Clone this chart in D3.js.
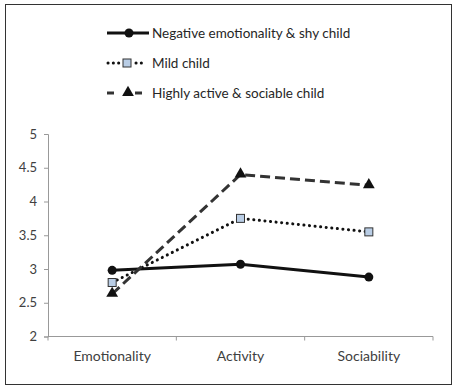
<!DOCTYPE html>
<html><head><meta charset="utf-8">
<script src="https://cdn.jsdelivr.net/npm/d3@7"></script>
<style>body{margin:0;background:#fff}svg{display:block}</style>
</head><body>
<script>
const categories = ["Emotionality", "Activity", "Sociability"];
const seriesNames = ["Negative emotionality & shy child", "Mild child", "Highly active & sociable child"];
const negativeShy = [2.98, 3.07, 2.88];
const mild = [2.80, 3.75, 3.55];
const highlyActive = [2.63, 4.40, 4.24];
const yTicks = [2, 2.5, 3, 3.5, 4, 4.5, 5];

const W = 455, H = 390;
const svg = d3.select("body").append("svg").attr("width", W).attr("height", H);
svg.append("rect").attr("x", 5.5).attr("y", 4.5).attr("width", 446).attr("height", 380)
  .attr("fill", "#fff").attr("stroke", "#333").attr("stroke-width", 1);

const font = "Lato, 'Open Sans', sans-serif";
const x = d3.scaleBand().domain(categories).range([48, 433]);
const y = d3.scaleLinear().domain([2, 5]).range([336.5, 134]);

// Y axis
const yAxis = svg.append("g").attr("transform", "translate(48,0)")
  .call(d3.axisLeft(y).tickValues(yTicks).tickSize(4).tickPadding(7).tickFormat(d3.format("~g")));
yAxis.select(".domain").attr("stroke", "#999");
yAxis.selectAll(".tick line").attr("stroke", "#999");
yAxis.selectAll("text").attr("fill", "#404040").style("font-family", font).style("font-size", "13px");

// X axis
const xAxis = svg.append("g").attr("transform", `translate(0,${y(2)})`);
xAxis.append("line").attr("x1", 48).attr("x2", 433).attr("stroke", "#999");
const bounds = [0, 1, 2, 3].map(i => 48 + i * x.step());
xAxis.selectAll(".bt").data(bounds).enter().append("line")
  .attr("x1", d => d).attr("x2", d => d).attr("y1", 0).attr("y2", 4).attr("stroke", "#999");
xAxis.selectAll(".lab").data(categories).enter().append("text")
  .attr("x", d => x(d) + x.bandwidth() / 2).attr("y", 24)
  .attr("text-anchor", "middle").attr("fill", "#404040")
  .style("font-family", font).style("font-size", "14px").text(d => d);

const series = [
  {name: seriesNames[0], values: negativeShy, dash: null, cap: "butt", marker: "circle"},
  {name: seriesNames[1], values: mild, dash: "0.1,5.5", cap: "round", marker: "square"},
  {name: seriesNames[2], values: highlyActive, dash: "10,5", cap: "butt", marker: "triangle"}
];

const line = d3.line().x((d, i) => x(categories[i]) + x.bandwidth() / 2).y(d => y(d));

function drawMarker(g, type, cx, cy) {
  if (type === "circle") {
    g.append("circle").attr("cx", cx).attr("cy", cy).attr("r", 4.5).attr("fill", "#111");
  } else if (type === "square") {
    g.append("rect").attr("x", cx - 4).attr("y", cy - 4).attr("width", 8).attr("height", 8)
      .attr("fill", "#b9cde5").attr("stroke", "#333").attr("stroke-width", 1);
  } else {
    g.append("path").attr("d", d3.symbol().type(d3.symbolTriangle).size(60)())
      .attr("transform", `translate(${cx},${cy - 0.5})`).attr("fill", "#111");
  }
}

series.forEach(s => {
  svg.append("path").datum(s.values).attr("d", line).attr("fill", "none")
    .attr("stroke", s.marker === "triangle" ? "#333" : "#111")
    .attr("stroke-width", 3)
    .attr("stroke-linecap", s.cap)
    .attr("stroke-dasharray", s.dash);
});
series.forEach(s => {
  const g = svg.append("g");
  s.values.forEach((v, i) => drawMarker(g, s.marker, x(categories[i]) + x.bandwidth() / 2, y(v)));
});

// Legend
const legendY = [33, 63, 93];
const legendMarkerX = [129, 127, 128];
series.forEach((s, i) => {
  const g = svg.append("g");
  const ly = legendY[i];
  const stroke = s.marker === "triangle" ? "#333" : "#111";
  if (s.marker === "circle") {
    g.append("line").attr("x1", 107).attr("x2", 149).attr("y1", ly).attr("y2", ly)
      .attr("stroke", stroke).attr("stroke-width", 3);
  } else if (s.marker === "square") {
    [[108, 119], [136, 142]].forEach(([a, b]) => g.append("line")
      .attr("x1", a).attr("x2", b).attr("y1", ly).attr("y2", ly)
      .attr("stroke", stroke).attr("stroke-width", 3).attr("stroke-linecap", "round")
      .attr("stroke-dasharray", "0.1,5.2"));
  } else {
    [[107, 114], [135, 142]].forEach(([a, b]) => g.append("line")
      .attr("x1", a).attr("x2", b).attr("y1", ly).attr("y2", ly)
      .attr("stroke", stroke).attr("stroke-width", 3));
  }
  drawMarker(g, s.marker, legendMarkerX[i], ly);
  g.append("text").attr("x", 152).attr("y", ly + 5).attr("fill", "#262626")
    .style("font-family", font).style("font-size", "13.5px").text(s.name);
});
</script>
</body></html>
